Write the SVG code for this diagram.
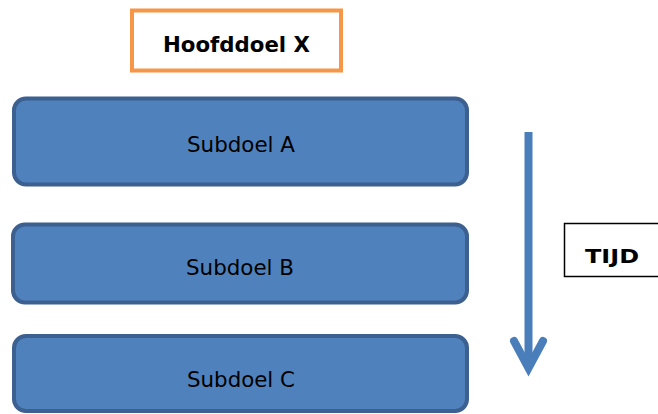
<svg xmlns="http://www.w3.org/2000/svg" width="658" height="414" viewBox="0 0 658 414">
<style>
.sub rect{fill:#4F81BD;stroke:#3C6090;stroke-width:4}
.sub text{font-family:"DejaVu Sans",Verdana,sans-serif;font-size:21px;fill:#000;text-anchor:middle}
.bold{font-family:"DejaVu Sans",Verdana,sans-serif;font-weight:bold;fill:#000;text-anchor:middle}
</style>
<rect width="658" height="414" fill="#fff"/>
<g id="hoofddoel">
<rect x="132" y="10.5" width="209" height="60" fill="#fff" stroke="#F79646" stroke-width="4"/>
<text class="bold" x="236.5" y="52" font-size="20.5" textLength="147" lengthAdjust="spacingAndGlyphs">Hoofddoel X</text>
</g>
<g id="subdoelA" class="sub">
<rect x="14" y="98.5" width="453" height="86" rx="12"/>
<text x="241" y="152" textLength="108" lengthAdjust="spacingAndGlyphs">Subdoel A</text>
</g>
<g id="subdoelB" class="sub">
<rect x="13" y="224.5" width="454" height="78" rx="12"/>
<text x="240" y="275" textLength="108" lengthAdjust="spacingAndGlyphs">Subdoel B</text>
</g>
<g id="subdoelC" class="sub">
<rect x="14" y="336" width="453" height="75" rx="12"/>
<text x="241" y="387" textLength="108" lengthAdjust="spacingAndGlyphs">Subdoel C</text>
</g>
<g id="tijd">
<rect x="564.5" y="223.5" width="100" height="53" fill="#fff" stroke="#000" stroke-width="1.5"/>
<text class="bold" x="612" y="263" font-size="19.5" textLength="54" lengthAdjust="spacingAndGlyphs">TIJD</text>
</g>
<g id="connectors">
<line x1="528.5" y1="132" x2="528.5" y2="368" stroke="#4A7EBB" stroke-width="8"/>
<polyline points="514,341 528.5,368 543,341" fill="none" stroke="#4A7EBB" stroke-width="8" stroke-linecap="round" stroke-linejoin="miter"/>
</g>
</svg>
